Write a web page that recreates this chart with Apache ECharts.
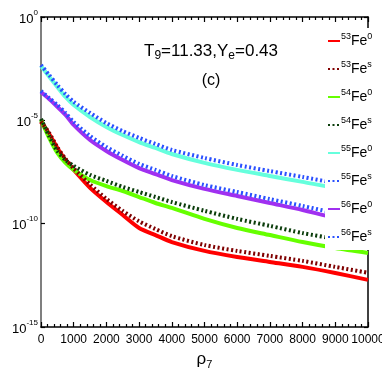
<!DOCTYPE html>
<html>
<head>
<meta charset="utf-8">
<script src="https://cdn.jsdelivr.net/npm/echarts@6/dist/echarts.min.js"></script>
<style>
 html, body { margin: 0; padding: 0; background: #fff; }
 #chart { width: 382px; height: 382px; }
</style>
</head>
<body>
<div id="chart"></div>
<script>
// density rho_7 sample points
const rho = [0, 250, 500, 750, 1000, 1500, 2000, 2500, 3000, 3500, 4000, 5000, 6000, 7000, 8000, 9000, 10000]

// lambda_bd (s^-1)
const fe53g = [8.3e-6, 2.19e-6, 4.6e-7, 1.2e-7, 4.0e-8, 5.4e-9, 1.12e-9, 2.63e-10, 6.2e-11, 2.8e-11, 1.29e-11, 4.8e-12, 2.45e-12, 1.41e-12, 8.1e-13, 4.1e-13, 1.91e-13]
const fe53s = [8.9e-6, 2.45e-6, 5.0e-7, 1.35e-7, 4.7e-8, 7.9e-9, 1.58e-9, 4.1e-10, 1.3e-10, 5.5e-11, 2.5e-11, 9.3e-12, 4.8e-12, 2.75e-12, 1.58e-12, 8.1e-13, 4.2e-13]
const fe54g = [1.05e-5, 1.41e-6, 2.63e-7, 8.7e-8, 4.0e-8, 1.29e-8, 6.6e-9, 3.8e-9, 1.95e-9, 1.0e-9, 5.8e-10, 1.7e-10, 6.2e-11, 2.82e-11, 1.29e-11, 6.6e-12, 3.8e-12]
const fe54s = [1.17e-5, 1.74e-6, 3.3e-7, 1.2e-7, 6.2e-8, 2.29e-8, 1.17e-8, 6.0e-9, 3.4e-9, 1.95e-9, 1.12e-9, 4.2e-10, 1.7e-10, 7.8e-11, 3.5e-11, 1.82e-11, 8.3e-12]
const fe55g = [4.3e-3, 1.3e-3, 4.1e-4, 1.35e-4, 5.5e-5, 1.45e-5, 4.8e-6, 1.95e-6, 8.9e-7, 4.6e-7, 2.34e-7, 8.7e-8, 4.0e-8, 2.04e-8, 1.05e-8, 5.4e-9, 3.1e-9]
const fe55s = [4.8e-3, 1.55e-3, 5.1e-4, 1.86e-4, 7.8e-5, 2.29e-5, 7.4e-6, 3.0e-6, 1.41e-6, 7.2e-7, 3.7e-7, 1.51e-7, 6.9e-8, 3.5e-8, 1.82e-8, 9.3e-9, 5.4e-9]
const fe56g = [2.34e-4, 1.07e-4, 4.5e-5, 1.82e-5, 6.0e-6, 1.12e-6, 3.3e-7, 1.2e-7, 4.9e-8, 2.5e-8, 1.29e-8, 4.8e-9, 2.19e-9, 1.0e-9, 4.6e-10, 1.91e-10, 1.07e-10]
const fe56s = [2.63e-4, 1.2e-4, 5.5e-5, 2.29e-5, 8.3e-6, 1.74e-6, 5.1e-7, 1.91e-7, 7.8e-8, 4.0e-8, 2.04e-8, 7.4e-9, 3.4e-9, 1.55e-9, 7.2e-10, 3.3e-10, 1.91e-10]

const xTicks = ['0', '1000', '2000', '3000', '4000', '5000', '6000', '7000', '8000', '9000', '10000']

const FONT = '"Liberation Sans Narrow", "Liberation Sans", Arial, sans-serif'

const seriesDefs = [
 { name: '53Fe0', mass: '53', st: '0', data: fe53g, color: '#ff0000', dotted: false },
 { name: '53Fes', mass: '53', st: 's', data: fe53s, color: '#800000', dotted: true },
 { name: '54Fe0', mass: '54', st: '0', data: fe54g, color: '#66ff00', dotted: false },
 { name: '54Fes', mass: '54', st: 's', data: fe54s, color: '#0b3d0b', dotted: true },
 { name: '55Fe0', mass: '55', st: '0', data: fe55g, color: '#66ffdd', dotted: false },
 { name: '55Fes', mass: '55', st: 's', data: fe55s, color: '#2a50ff', dotted: true },
 { name: '56Fe0', mass: '56', st: '0', data: fe56g, color: '#a030f0', dotted: false },
 { name: '56Fes', mass: '56', st: 's', data: fe56s, color: '#2a50ff', dotted: true }
]

const supLabel = {
 b: { fontFamily: FONT, fontSize: 13, color: '#000', verticalAlign: 'bottom' },
 s: { fontFamily: FONT, fontSize: 8, color: '#000', verticalAlign: 'top', padding: [0, 0, 9, 0] }
}

const tickStyle = { color: '#000', width: 1.2 }

const lineSeries = seriesDefs.map(s => ({
 name: s.name,
 type: 'line',
 xAxisIndex: 0,
 yAxisIndex: 0,
 smooth: 0.25,
 symbol: 'none',
 data: rho.map((r, i) => [r, s.data[i]]),
 lineStyle: s.dotted
  ? { color: s.color, width: 4, type: [2, 2.5], cap: 'butt' }
  : { color: s.color, width: 4 },
 itemStyle: { color: s.color },
 z: s.dotted ? 3 : 2
}))

const option = {
 animation: false,
 grid: { left: 41, right: 14, top: 17, bottom: 55, containLabel: false, outerBoundsMode: 'none' },
 title: [
  {
   text: 'T{sub|9}=11.33,Y{sub|e}=0.43',
   left: 206, top: 36, textAlign: 'center',
   textStyle: {
    fontFamily: FONT, fontSize: 17, fontWeight: 'normal', color: '#000',
    rich: {
     sub: { fontFamily: FONT, fontSize: 12, color: '#000', padding: [9, 0, 0, 0] }
    }
   }
  },
  {
   text: '(c)',
   left: 206, top: 68, textAlign: 'center',
   textStyle: { fontFamily: FONT, fontSize: 16, fontWeight: 'normal', color: '#000' }
  }
 ],
 legend: {
  orient: 'vertical',
  left: 325, top: 28,
  itemGap: 12,
  itemWidth: 12, itemHeight: 6,
  backgroundColor: '#fff',
  padding: [4, 0, 6, 2],
  data: seriesDefs.map(s => s.name),
  itemStyle: { opacity: 0 },
  formatter: name => {
   const s = seriesDefs.find(d => d.name === name)
   return '{m|' + s.mass + '}{fe|Fe}{m|' + s.st + '}'
  },
  textStyle: {
   padding: [0, 0, 0, -4],
   rich: {
    m: { fontFamily: FONT, fontSize: 9, color: '#000', padding: [0, 0, 9, 0] },
    fe: { fontFamily: FONT, fontSize: 14, color: '#000' }
   }
  }
 },
 xAxis: [
  {
   type: 'value', min: 0, max: 10000, interval: 1000,
   name: 'ρ{sub|7}', nameLocation: 'middle', nameGap: 22,
   nameTextStyle: {
    fontFamily: FONT, fontSize: 17, color: '#000',
    rich: { sub: { fontFamily: FONT, fontSize: 11, color: '#000', padding: [10, 0, 0, 0] } }
   },
   axisLine: { show: true, onZero: false, lineStyle: { color: '#000', width: 1.5 } },
   axisTick: { show: true, inside: true, length: 5, lineStyle: tickStyle },
   minorTick: { show: true, splitNumber: 5, length: 3, lineStyle: tickStyle },
   axisLabel: {
    fontFamily: FONT, fontSize: 12, color: '#000', margin: 7,
    formatter: v => xTicks[Math.round(v / 1000)]
   },
   splitLine: { show: false }
  },
  {
   type: 'value', position: 'top', min: 0, max: 10000, interval: 1000,
   axisLine: { show: true, onZero: false, lineStyle: { color: '#000', width: 1.5 } },
   axisTick: { show: true, inside: true, length: 5, lineStyle: tickStyle },
   minorTick: { show: true, splitNumber: 5, length: 3, lineStyle: tickStyle },
   axisLabel: { show: false },
   splitLine: { show: false }
  }
 ],
 yAxis: [
  {
   type: 'log', logBase: 10, min: 1e-15, max: 1, interval: 5,
   name: 'λ{sub|bd}  (s{sup|−1})', nameLocation: 'middle', nameGap: 28, nameRotate: 90,
   nameTextStyle: {
    fontFamily: FONT, fontSize: 16, color: '#000',
    rich: {
     sub: { fontFamily: FONT, fontSize: 11, color: '#000', padding: [9, 0, 0, 0] },
     sup: { fontFamily: FONT, fontSize: 11, color: '#000', padding: [0, 0, 9, 0] }
    }
   },
   axisLine: { show: true, onZero: false, lineStyle: { color: '#7f7f7f', width: 2 } },
   axisTick: { show: true, inside: true, length: 4, lineStyle: tickStyle },
   axisLabel: {
    margin: 3,
    formatter: v => '{b|10}{s|' + Math.round(Math.log10(v)) + '}',
    rich: supLabel
   },
   splitLine: { show: false }
  },
  {
   type: 'log', logBase: 10, min: 1e-15, max: 1, interval: 5, position: 'right',
   axisLine: { show: true, onZero: false, lineStyle: { color: '#000', width: 1.5 } },
   axisTick: { show: true, inside: true, length: 4, lineStyle: tickStyle },
   axisLabel: { show: false },
   splitLine: { show: false }
  }
 ],
 series: lineSeries
}

const chart = echarts.init(document.getElementById('chart'))
chart.setOption(option)
</script>
</body>
</html>
